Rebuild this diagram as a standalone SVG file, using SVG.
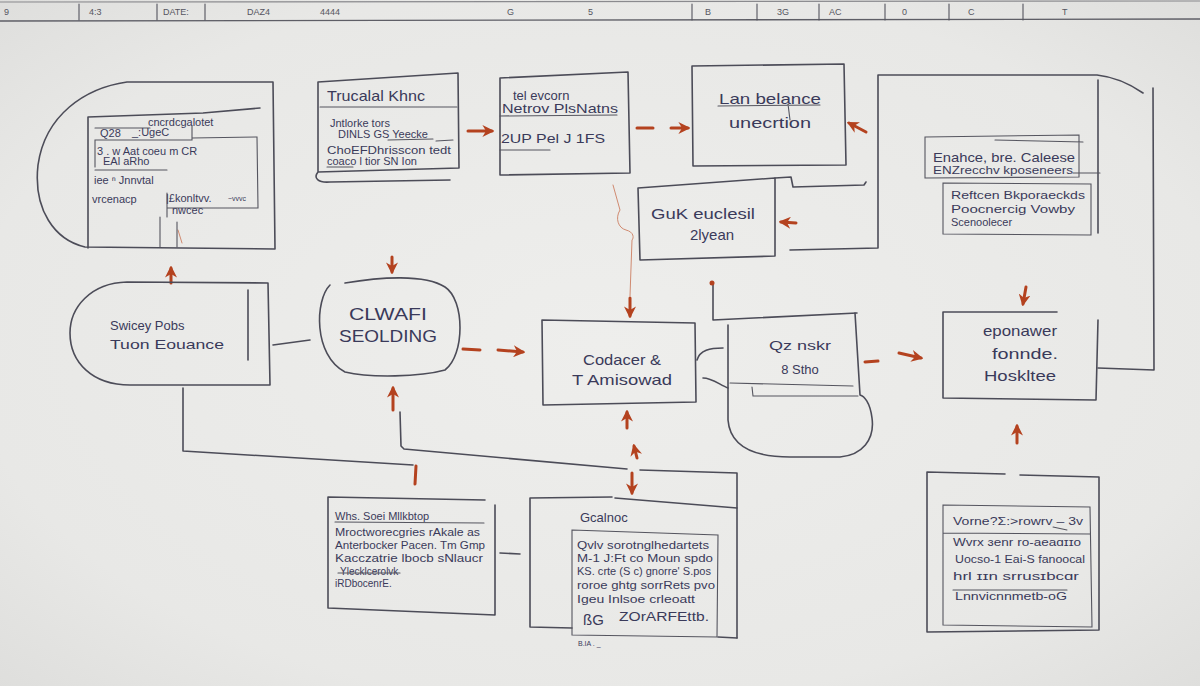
<svg xmlns="http://www.w3.org/2000/svg" width="1200" height="686" viewBox="0 0 1200 686">
<defs>
<radialGradient id="bg" cx="50%" cy="50%" r="75%">
<stop offset="0" stop-color="#eeeeec"/>
<stop offset="0.7" stop-color="#e8e8e6"/>
<stop offset="1" stop-color="#dcdcda"/>
</radialGradient>
<marker id="ah" viewBox="0 0 10 10" refX="8" refY="5" markerWidth="4" markerHeight="4" orient="auto">
<path d="M0,0 L10,5 L0,10 L3,5 Z" fill="#b4421f"/>
</marker>
<style>
.ln{fill:none;stroke:#4c4c58;stroke-width:1.6;stroke-linecap:round;stroke-linejoin:round}
.th{fill:none;stroke:#55555f;stroke-width:1.1;stroke-linecap:round}
.rd{fill:none;stroke:#b4421f;stroke-width:3;stroke-linecap:round}
.rt{fill:none;stroke:#d08a70;stroke-width:1;stroke-linecap:round}
.t{font-family:"Liberation Sans","DejaVu Sans",sans-serif;fill:#3a3a5a}
.s{font-size:11px}
.m{font-size:13px}
.l{font-size:15px}
.x{font-size:17px}
.hd{font-family:"Liberation Sans",sans-serif;font-size:9px;fill:#555560}
</style>
</defs>
<rect width="1200" height="686" fill="url(#bg)"/>

<g id="header">
<path d="M0,2 L1200,1" stroke="#8a8a8e" stroke-width="1.2" fill="none"/>
<path d="M0,21 L1200,19" stroke="#5e5e66" stroke-width="1.3" fill="none"/>
<path class="th" d="M79,4 V20 M157,4 V20 M205,4 V20 M692,4 V20 M757,4 V20 M819,4 V20 M885,4 V20 M949,4 V20 M1023,4 V20"/>
<text class="hd" x="4" y="15">9</text>
<text class="hd" x="89" y="15">4:3</text>
<text class="hd" x="163" y="15">DATE:</text>
<text class="hd" x="247" y="15">DAZ4</text>
<text class="hd" x="320" y="15">4444</text>
<text class="hd" x="507" y="15">G</text>
<text class="hd" x="588" y="15">5</text>
<text class="hd" x="705" y="15">B</text>
<text class="hd" x="777" y="15">3G</text>
<text class="hd" x="829" y="15">AC</text>
<text class="hd" x="902" y="15">0</text>
<text class="hd" x="968" y="15">C</text>
<text class="hd" x="1062" y="15">T</text>
</g>

<g id="connectors">
<path class="ln" d="M273,345 L310,340"/>
<path class="ln" d="M183,388 L183,451 L413,465"/>
<path class="ln" d="M400,412 L401,446 L404,449 L627,469"/>
<path class="ln" d="M640,470 L737,473 L737,638"/>
<path class="ln" d="M697,360 C700,350 710,348 723,348 M703,378 C712,378 720,385 728,388"/>
<path class="ln" d="M775,178 L791,177 L793,187 L864,185 L866,182"/>
<path class="ln" d="M790,250 L878,248 L878,75 L1097,75 C1115,77 1130,84 1143,93"/>
<path class="ln" d="M1098,80 L1098,233"/>
<path class="ln" d="M1153,88 L1154,370 L1098,368"/>
<path class="ln" d="M713,284 L713,320 L857,313"/>
<path class="ln" d="M500,553 L520,554"/>
<path class="rt" d="M613,185 L620,210 C615,218 618,228 626,230 C634,232 634,238 632,240 L630,296"/>
<circle cx="712" cy="283" r="2.5" fill="#b4421f"/>
<path class="rd" d="M468,131 L492,131" marker-end="url(#ah)"/>
<path class="rd" d="M637,128 L653,128"/>
<path class="rd" d="M671,128 L688,128" marker-end="url(#ah)"/>
<path class="rd" d="M866,132 L849,123" marker-end="url(#ah)"/>
<path class="rd" d="M796,223 L781,222" marker-end="url(#ah)"/>
<path class="rd" d="M392,257 L392,272" marker-end="url(#ah)"/>
<path class="rd" d="M393,410 L393,388" marker-end="url(#ah)"/>
<path class="rd" d="M463,349 L480,350"/>
<path class="rd" d="M498,350 L523,352" marker-end="url(#ah)"/>
<path class="rd" d="M630,298 L630,316" marker-end="url(#ah)"/>
<path class="rd" d="M627,428 L627,412" marker-end="url(#ah)"/>
<path class="rd" d="M637,458 L634,446" marker-end="url(#ah)"/>
<path class="rd" d="M632,473 L632,493" marker-end="url(#ah)"/>
<path class="rd" d="M416,466 L415,484"/>
<path class="rd" d="M865,362 L878,361"/>
<path class="rd" d="M899,353 L921,358" marker-end="url(#ah)"/>
<path class="rd" d="M1026,287 L1023,304" marker-end="url(#ah)"/>
<path class="rd" d="M1017,443 L1017,426" marker-end="url(#ah)"/>
<path class="rd" d="M171,283 L171,268" marker-end="url(#ah)"/>
<path class="rt" d="M178,230 L182,243"/>
</g>

<g id="n1">
<path class="ln" d="M273,82 L127,82 C85,88 45,115 38,165 C33,210 55,240 85,247 L275,249 L273,82"/>
<path class="ln" d="M88,117 L88,248 M88,117 L203,113 L260,108"/>
<path class="th" d="M95,128 L150,128 M192,126 L192,140 L95,140 L95,167 M192,138 L257,137 L258,208 L167,208 M95,170 L167,170 M167,193 L167,217 M160,217 L160,247 M177,222 L177,247"/>
<text class="t s" x="148" y="126">cncrdcgalotet</text>
<text class="t s" x="100" y="137">Q28</text>
<text class="t s" x="132" y="136">_:UgeC</text>
<text class="t s" x="97" y="155">3 . w Aat coeu m CR</text>
<text class="t s" x="103" y="165">EAl aRho</text>
<text class="t s" x="94" y="184">iee ⁿ Jnnvtal</text>
<text class="t s" x="92" y="203">vrcenacp</text>
<text class="t s" x="166" y="202">|£konltvv.</text>
<text class="t" font-size="7" x="228" y="201">~vvvc</text>
<text class="t s" x="172" y="214">nwcec</text>
</g>

<g id="n2">
<path class="ln" d="M318,82 L458,73 L459,168 L318,172 Z M318,172 C313,178 318,183 330,182 L450,180"/>
<path class="th" d="M320,107 L457,107 M388,140 L433,139 M436,141 L453,140 M327,167 L353,167"/>
<text class="t l" x="327" y="101" textLength="98" lengthAdjust="spacingAndGlyphs">Trucalal Khnc</text>
<text class="t s" x="330" y="127">Jntlorke tors</text>
<text class="t s" x="338" y="138">DINLS GS Yeecke</text>
<text class="t s" x="327" y="154" textLength="124" lengthAdjust="spacingAndGlyphs">ChoEFDhrisscon tedt</text>
<text class="t s" x="327" y="165">coaco  l tior SN Ion</text>
</g>

<g id="n3">
<path class="ln" d="M500,78 L628,72 L630,173 L500,175 Z"/>
<path class="th" d="M500,116 L617,115 M500,150 L550,150"/>
<text class="t m" x="513" y="100">tel evcorn</text>
<text class="t m" x="502" y="113" textLength="116" lengthAdjust="spacingAndGlyphs">Netrov PlsNatns</text>
<text class="t m" x="501" y="143" textLength="104" lengthAdjust="spacingAndGlyphs">2UP Pel J 1FS</text>
</g>

<g id="n4">
<path class="ln" d="M692,66 L844,64 L846,165 L693,166 Z"/>
<path class="th" d="M718,106 L820,105 M788,104 L790,120"/>
<text class="t l" x="770" y="104" text-anchor="middle" textLength="102" lengthAdjust="spacingAndGlyphs">Lan belance</text>
<text class="t l" x="770" y="128" text-anchor="middle" textLength="82" lengthAdjust="spacingAndGlyphs">unecrtion</text>
</g>

<g id="n5">
<path class="ln" d="M638,188 L775,178 L775,256 L640,260 Z"/>
<text class="t l" x="703" y="219" text-anchor="middle" textLength="104" lengthAdjust="spacingAndGlyphs">GuK euclesil</text>
<text class="t l" x="712" y="240" text-anchor="middle">2lyean</text>
</g>

<g id="n5b">
<path class="th" d="M925,137 L1079,135 L1079,177 L925,178 Z M995,140 L1083,142 M1073,173 L1100,173"/>
<path class="th" d="M943,183 L1091,184 L1091,235 L943,234 Z"/>
<text class="t m" x="933" y="162" textLength="142" lengthAdjust="spacingAndGlyphs">Enahce, bre. Caleese</text>
<text class="t s" x="933" y="174" textLength="140" lengthAdjust="spacingAndGlyphs">ENZrecchv  kposeneers</text>
<text class="t s" x="951" y="199" textLength="134" lengthAdjust="spacingAndGlyphs">Reftcen Bkporaeckds</text>
<text class="t s" x="951" y="213" textLength="124" lengthAdjust="spacingAndGlyphs">Poocnercig  Vowby</text>
<text class="t s" x="951" y="226">Scenoolecer</text>
</g>

<g id="n6">
<path class="ln" d="M268,283 L127,282 C90,283 70,308 70,333 C70,362 92,385 130,385 L270,385 L268,283"/>
<path class="ln" d="M248,290 L248,360"/>
<text class="t m" x="110" y="330">Swicey Pobs</text>
<text class="t m" x="110" y="349" textLength="114" lengthAdjust="spacingAndGlyphs">Tuon Eouance</text>
</g>

<g id="n7">
<path class="ln" d="M330,285 C315,300 313,355 345,372 C370,378 420,377 445,370 C465,355 465,300 445,287 C425,274 380,277 345,283"/>
<text class="t x" x="388" y="320" text-anchor="middle" textLength="78" lengthAdjust="spacingAndGlyphs">CLWAFI</text>
<text class="t x" x="388" y="342" text-anchor="middle" textLength="98" lengthAdjust="spacingAndGlyphs">SEOLDING</text>
</g>

<g id="n8">
<path class="ln" d="M542,320 L695,323 L696,402 L543,405 Z"/>
<text class="t l" x="622" y="365" text-anchor="middle" textLength="78" lengthAdjust="spacingAndGlyphs">Codacer &amp;</text>
<text class="t l" x="622" y="385" text-anchor="middle" textLength="100" lengthAdjust="spacingAndGlyphs">T Amisowad</text>
</g>

<g id="n9">
<path class="ln" d="M728,325 L728,420 C730,445 750,457 790,457 L840,457 C862,455 875,440 872,418 C870,402 864,396 860,395 L855,313"/>
<path class="th" d="M730,383 L853,386 M752,387 L753,396 L858,396"/>
<text class="t m" x="800" y="350" text-anchor="middle" textLength="62" lengthAdjust="spacingAndGlyphs">Qz nskr</text>
<text class="t m" x="800" y="374" text-anchor="middle">8 Stho</text>
</g>

<g id="n10">
<path class="ln" d="M1057,312 L943,312 L943,398 L1096,400 L1098,320"/>
<text class="t l" x="1020" y="336" text-anchor="middle" textLength="74" lengthAdjust="spacingAndGlyphs">eponawer</text>
<text class="t l" x="1025" y="359" text-anchor="middle" textLength="66" lengthAdjust="spacingAndGlyphs">fonnde.</text>
<text class="t l" x="1020" y="381" text-anchor="middle" textLength="72" lengthAdjust="spacingAndGlyphs">Hoskltee</text>
</g>

<g id="n11">
<path class="ln" d="M328,497 L485,500 M495,505 L495,615 L328,608 L328,497"/>
<path class="th" d="M335,522 L484,523"/>
<text class="t s" x="335" y="520">Whs. Soei Mllkbtop</text>
<text class="t" font-size="10" x="335" y="536" textLength="145" lengthAdjust="spacingAndGlyphs">Mroctworecgries rAkale as</text>
<text class="t" font-size="10" x="335" y="549" textLength="150" lengthAdjust="spacingAndGlyphs">Anterbocker Pacen. Tm Gmp</text>
<text class="t" font-size="10" x="335" y="562" textLength="148" lengthAdjust="spacingAndGlyphs">Kacczatrie lbocb sNlaucr</text>
<text class="t" font-size="10" x="340" y="575">Ylecklcerolvk</text>
<path class="th" d="M338,573 L400,573"/>
<text class="t" font-size="10" x="335" y="587">iRDbocenrE.</text>
</g>

<g id="n12">
<path class="ln" d="M530,498 L612,497 M615,498 L737,508 M530,498 L530,627 L572,628 M718,637 L737,638"/>
<path class="th" d="M572,530 L718,535 L717,637 L572,635 Z"/>
<text class="t m" x="580" y="522">Gcalnoc</text>
<text class="t s" x="577" y="549" textLength="132" lengthAdjust="spacingAndGlyphs">Qvlv sorotnglhedartets</text>
<text class="t s" x="577" y="562" textLength="136" lengthAdjust="spacingAndGlyphs">M-1 J:Ft co Moun spdo</text>
<text class="t s" x="577" y="575" textLength="134" lengthAdjust="spacingAndGlyphs">KS. crte (S c) gnorre' S.pos</text>
<text class="t s" x="577" y="589" textLength="138" lengthAdjust="spacingAndGlyphs">roroe ghtg sorrRets pvo</text>
<text class="t s" x="577" y="603" textLength="118" lengthAdjust="spacingAndGlyphs">Igeu Inlsoe crleoatt</text>
<text class="t l" x="583" y="625">ßG</text>
<text class="t m" x="619" y="621" textLength="90" lengthAdjust="spacingAndGlyphs">ZOrARFEttb.</text>
<text class="t" font-size="7" x="578" y="646">B.IA . _</text>
</g>

<g id="n13">
<path class="ln" d="M927,472 L1005,474 M1020,475 L1099,477 L1099,630 L927,632 L927,472"/>
<path class="th" d="M943,505 L1090,507 L1092,627 L943,625 Z M943,533 L1090,534 M953,590 L1067,590 M1053,527 L1067,530"/>
<text class="t s" x="953" y="525" textLength="130" lengthAdjust="spacingAndGlyphs">Vorne?Σ:>rowrv – 3v</text>
<text class="t s" x="953" y="546" textLength="128" lengthAdjust="spacingAndGlyphs">Wvrx ɜenr ro-aeaɑɪɪo</text>
<text class="t s" x="955" y="563" textLength="130" lengthAdjust="spacingAndGlyphs">Uocso-1 Eai-S fanoocal</text>
<text class="t s" x="953" y="580" textLength="126" lengthAdjust="spacingAndGlyphs">hrl ɪɪn  srrusɪbcɑr</text>
<text class="t" font-size="10" x="955" y="600" textLength="112" lengthAdjust="spacingAndGlyphs">Lnnvicnnmetb-oG</text>
</g>
</svg>
